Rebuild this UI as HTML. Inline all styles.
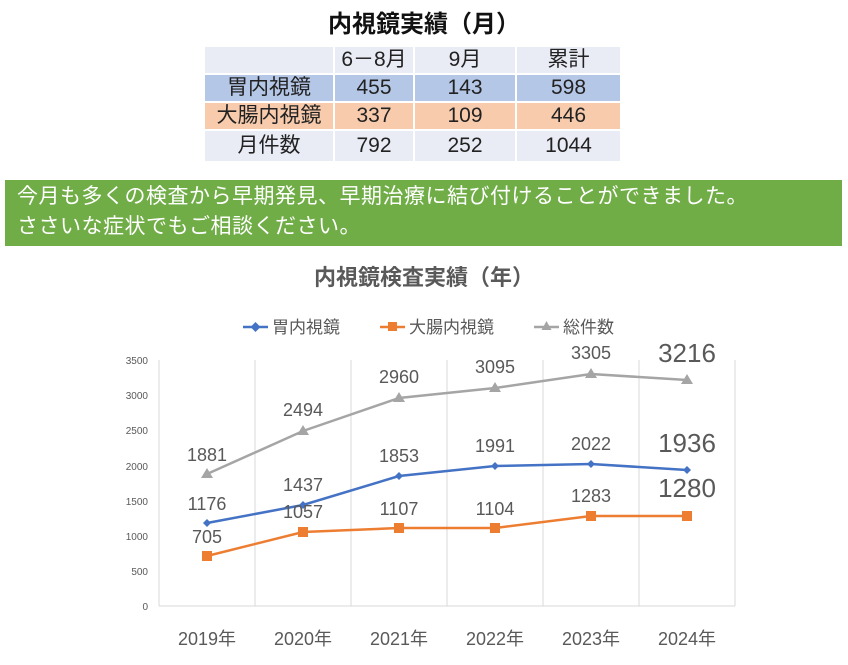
<!DOCTYPE html>
<html><head><meta charset="utf-8"><style>
body{margin:0;width:848px;height:665px;background:#fff;overflow:hidden;font-family:"Liberation Sans","Noto Sans CJK JP",sans-serif;position:relative}
.t{position:absolute;left:0;width:848px;text-align:center;top:4px;font-size:24px;font-weight:bold;color:#111}
table{position:absolute;left:203px;top:45px;border-collapse:separate;border-spacing:2px;font-size:21px;color:#222}
td{text-align:center;padding:0;height:26px;line-height:26px}
.h td{background:#e9ebf5}.r1 td{background:#b4c7e7}.r2 td{background:#f8cbad}.r3 td{background:#e9ebf5}
.g{position:absolute;left:5px;top:180px;width:837px;height:66px;background:#70ad47;color:#fff;font-size:21px;line-height:30px;padding:2px 0 0 12px;box-sizing:border-box;letter-spacing:0.5px}
</style></head><body>
<div class="t">内視鏡実績（月）</div>
<table>
<tr class="h"><td style="width:128px"></td><td style="width:78px">6－8月</td><td style="width:100px">9月</td><td style="width:103px">累計</td></tr>
<tr class="r1"><td>胃内視鏡</td><td>455</td><td>143</td><td>598</td></tr>
<tr class="r2"><td>大腸内視鏡</td><td>337</td><td>109</td><td>446</td></tr>
<tr class="r3"><td style="height:30px">月件数</td><td>792</td><td>252</td><td>1044</td></tr>
</table>
<div class="g">今月も多くの検査から早期発見、早期治療に結び付けることができました。<br>ささいな症状でもご相談ください。</div>
<svg width="848" height="665" style="position:absolute;left:0;top:0" font-family="Liberation Sans, Noto Sans CJK JP, sans-serif">
<text x="424" y="285" text-anchor="middle" font-size="22" font-weight="bold" fill="#595959">内視鏡検査実績（年）</text>
<g font-size="17" fill="#595959">
<line x1="243" y1="327" x2="268" y2="327" stroke="#4472c4" stroke-width="2.5"/><path d="M255.5 322l5 5-5 5-5-5z" fill="#4472c4"/><text x="272" y="333">胃内視鏡</text>
<line x1="380" y1="327" x2="405" y2="327" stroke="#ed7d31" stroke-width="2.5"/><rect x="388" y="322" width="9" height="9" fill="#ed7d31"/><text x="409" y="333">大腸内視鏡</text>
<line x1="534" y1="327" x2="559" y2="327" stroke="#a5a5a5" stroke-width="2.5"/><path d="M546.5 321l5 9h-10z" fill="#a5a5a5"/><text x="563" y="333">総件数</text>
</g>
<g stroke="#d9d9d9" stroke-width="1">
<line x1="159" y1="360" x2="159" y2="606"/><line x1="255" y1="360" x2="255" y2="606"/><line x1="351" y1="360" x2="351" y2="606"/><line x1="447" y1="360" x2="447" y2="606"/><line x1="543" y1="360" x2="543" y2="606"/><line x1="639" y1="360" x2="639" y2="606"/><line x1="735" y1="360" x2="735" y2="606"/>
<line x1="159" y1="606" x2="735" y2="606"/>
</g>
<g font-size="10" fill="#595959" text-anchor="end">
<text x="148" y="610">0</text><text x="148" y="575">500</text><text x="148" y="540">1000</text><text x="148" y="505">1500</text><text x="148" y="470">2000</text><text x="148" y="434">2500</text><text x="148" y="399">3000</text><text x="148" y="364">3500</text>
</g>
<g font-size="18" fill="#595959" text-anchor="middle">
<text x="207" y="645">2019年</text><text x="303" y="645">2020年</text><text x="399" y="645">2021年</text><text x="495" y="645">2022年</text><text x="591" y="645">2023年</text><text x="687" y="645">2024年</text>
</g>
<polyline points="207,474 303,431 399,398 495,388 591,374 687,380" fill="none" stroke="#a5a5a5" stroke-width="2.5"/>
<g fill="#a5a5a5"><path d="M207 468l6 10h-12z"/><path d="M303 425l6 10h-12z"/><path d="M399 392l6 10h-12z"/><path d="M495 382l6 10h-12z"/><path d="M591 368l6 10h-12z"/><path d="M687 374l6 10h-12z"/></g>
<polyline points="207,523 303,505 399,476 495,466 591,464 687,470" fill="none" stroke="#4472c4" stroke-width="2.5"/>
<g fill="#4472c4"><path d="M207 519l4 4-4 4-4-4z"/><path d="M303 501l4 4-4 4-4-4z"/><path d="M399 472l4 4-4 4-4-4z"/><path d="M495 462l4 4-4 4-4-4z"/><path d="M591 460l4 4-4 4-4-4z"/><path d="M687 466l4 4-4 4-4-4z"/></g>
<polyline points="207,556 303,532 399,528 495,528 591,516 687,516" fill="none" stroke="#ed7d31" stroke-width="2.5"/>
<g fill="#ed7d31"><rect x="202" y="551" width="10" height="10"/><rect x="298" y="527" width="10" height="10"/><rect x="394" y="523" width="10" height="10"/><rect x="490" y="523" width="10" height="10"/><rect x="586" y="511" width="10" height="10"/><rect x="682" y="511" width="10" height="10"/></g>
<g font-size="18" fill="#595959" text-anchor="middle">
<text x="207" y="461">1881</text><text x="303" y="416">2494</text><text x="399" y="383">2960</text><text x="495" y="373">3095</text><text x="591" y="359">3305</text>
<text x="207" y="510">1176</text><text x="303" y="491">1437</text><text x="399" y="462">1853</text><text x="495" y="452">1991</text><text x="591" y="450">2022</text>
<text x="207" y="543">705</text><text x="303" y="518">1057</text><text x="399" y="515">1107</text><text x="495" y="515">1104</text><text x="591" y="502">1283</text>
</g>
<g font-size="26" fill="#595959" text-anchor="middle">
<text x="687" y="362">3216</text><text x="687" y="452">1936</text><text x="687" y="497">1280</text>
</g>
</svg>
</body></html>
